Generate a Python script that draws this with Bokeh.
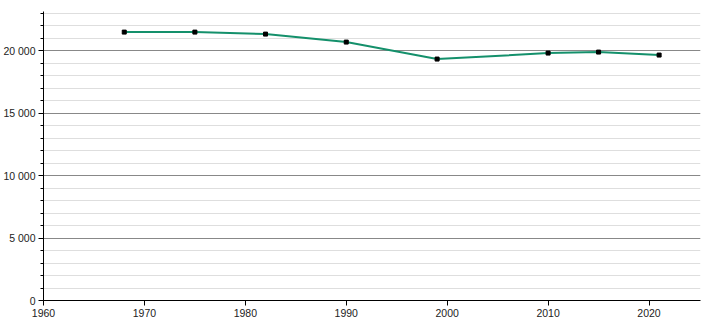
from bokeh.plotting import figure
from bokeh.models import SingleIntervalTicker, CustomJSTickFormatter, Range1d
from bokeh.embed import file_html
from bokeh.resources import INLINE

years = [1968, 1975, 1982, 1990, 1999, 2010, 2015, 2021]
population = [21500, 21500, 21340, 20700, 19340, 19820, 19900, 19660]

p = figure(width=710, height=320, output_backend="svg", toolbar_location=None,
           x_range=Range1d(1960, 2025.1), y_range=Range1d(0, 23150),
           min_border_left=42, min_border_right=10, min_border_top=11, min_border_bottom=20)
p.outline_line_color = None
p.background_fill_color = "white"

p.xaxis.ticker = SingleIntervalTicker(interval=10, num_minor_ticks=0)
p.yaxis.ticker = SingleIntervalTicker(interval=5000, num_minor_ticks=5)
p.yaxis.formatter = CustomJSTickFormatter(code="""
return Math.round(tick).toString().replace(/\\B(?=(\\d{3})+(?!\\d))/g, " ");
""")

for ax in (p.xaxis[0], p.yaxis[0]):
    ax.axis_line_color = "black"
    ax.axis_line_width = 1
    ax.major_tick_line_color = "black"
    ax.major_tick_out = 5
    ax.major_tick_in = 0
    ax.major_label_text_font = "Liberation Sans"
    ax.major_label_text_font_size = "10.5px"
    ax.major_label_text_color = "#222222"
p.yaxis.major_label_standoff = 3
p.xaxis.major_label_standoff = 3
p.yaxis.minor_tick_line_color = "black"
p.yaxis.minor_tick_out = 3
p.yaxis.minor_tick_in = 0
p.xaxis.minor_tick_line_color = None

p.xgrid.grid_line_color = None
p.ygrid.grid_line_color = "#888888"
p.ygrid.grid_line_width = 1
p.ygrid.minor_grid_line_color = "#dedede"
p.ygrid.minor_grid_line_width = 1

p.line(years, population, line_color="#14906b", line_width=2)
p.scatter(years, population, marker="square", size=4, fill_color="black", line_color="black")

open("out.html", "w").write(file_html(p, INLINE))
